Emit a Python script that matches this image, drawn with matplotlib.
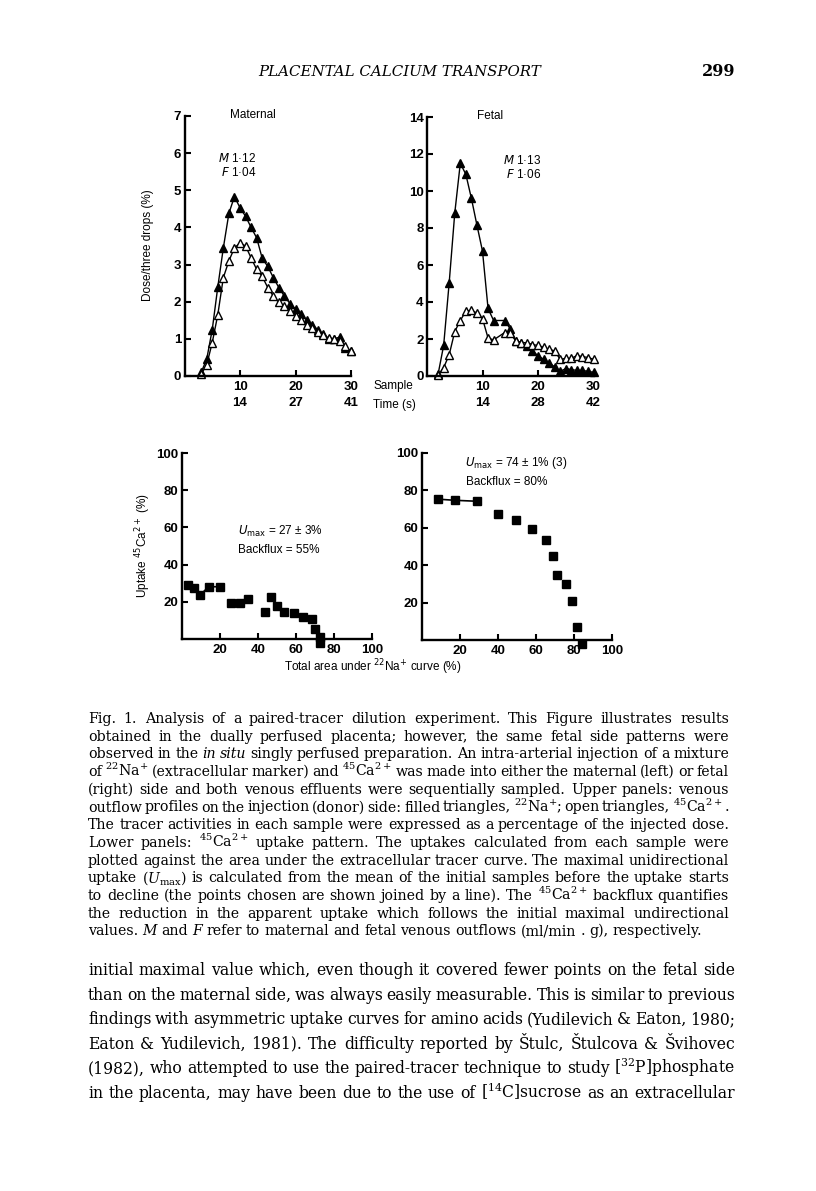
import matplotlib
matplotlib.use('Agg')
import matplotlib.pyplot as plt

plt.rcParams['font.family'] = 'Liberation Sans'
plt.rcParams['mathtext.fontset'] = 'dejavusans'

# upper panels: dose per three drops (%) against sample number
mat_sample = [3, 4, 5, 6, 7, 8, 9, 10, 11, 12, 13, 14, 15, 16, 17, 18, 19, 20,
              21, 22, 23, 24, 25, 26, 27, 28, 29, 30]
mat_na = [0.1, 0.45, 1.25, 2.4, 3.45, 4.38, 4.83, 4.53, 4.3, 4.0, 3.72, 3.17,
          2.95, 2.65, 2.38, 2.15, 1.95, 1.8, 1.67, 1.5, 1.38, 1.25, 1.12, 1.0,
          1.0, 1.05, 0.75, 0.68]
mat_ca = [0.05, 0.3, 0.9, 1.65, 2.65, 3.1, 3.45, 3.58, 3.5, 3.18, 2.87, 2.68,
          2.38, 2.15, 1.98, 1.88, 1.75, 1.62, 1.5, 1.38, 1.28, 1.18, 1.1, 1.02,
          1.0, 0.95, 0.8, 0.66]

fet_sample = [2, 3, 4, 5, 6, 7, 8, 9, 10, 11, 12, 14, 15, 16, 17, 18, 19, 20,
              21, 22, 23, 24, 25, 26, 27, 28, 29, 30]
fet_na = [0.1, 1.65, 5.05, 8.8, 11.5, 10.9, 9.6, 8.15, 6.75, 3.65, 3.0, 3.0,
          2.55, 1.9, 1.8, 1.6, 1.35, 1.1, 0.9, 0.7, 0.5, 0.25, 0.4, 0.35, 0.3,
          0.3, 0.25, 0.2]
fet_ca = [0.05, 0.45, 1.15, 2.4, 3.0, 3.5, 3.55, 3.4, 3.1, 2.05, 1.95, 2.35,
          2.3, 1.9, 1.8, 1.8, 1.7, 1.65, 1.55, 1.45, 1.35, 0.9, 0.95, 0.95, 1.1,
          1.05, 1.0, 0.9]

mat_time = ['14', '27', '41']
fet_time = ['14', '28', '42']

# lower panels: uptake of 45Ca (%) against area under 22Na curve (%)
mat_area = [3.2, 6.1, 9.6, 14.0, 20.2, 25.8, 30.4, 34.7, 43.5, 46.8, 50.2,
            53.7, 58.8, 63.5, 68.4, 69.8, 72.8, 72.8]
mat_uptake = [29, 27.6, 23.7, 28.1, 28.1, 19.5, 19.2, 21.3, 14.7, 22.7, 17.9,
              14.7, 13.8, 11.7, 10.8, 5.2, 0.9, -2.0]
fet_area = [8.6, 17.4, 28.8, 40.2, 49.5, 57.7, 65.1, 68.8, 71.2, 75.6, 79.1,
            81.4, 84.4]
fet_uptake = [75.3, 74.7, 74.2, 67.6, 64.1, 59.1, 53.4, 44.8, 34.8, 30.1,
              21.1, 6.8, -2.2]
mat_joined = 5
fet_joined = 3

caption = [
    "Fig. 1. Analysis of a paired-tracer dilution experiment. This Figure illustrates results",
    "obtained in the dually perfused placenta; however, the same fetal side patterns were",
    "observed in the _in_ _situ_ singly perfused preparation. An intra-arterial injection of a mixture",
    "of $^{22}$Na$^{+}$ (extracellular marker) and $^{45}$Ca$^{2+}$ was made into either the maternal (left) or fetal",
    "(right) side and both venous effluents were sequentially sampled. Upper panels: venous",
    "outflow profiles on the injection (donor) side: filled triangles, $^{22}$Na$^{+}$; open triangles, $^{45}$Ca$^{2+}$.",
    "The tracer activities in each sample were expressed as a percentage of the injected dose.",
    "Lower panels: $^{45}$Ca$^{2+}$ uptake pattern. The uptakes calculated from each sample were",
    "plotted against the area under the extracellular tracer curve. The maximal unidirectional",
    "uptake ($U_{\\mathrm{max}}$) is calculated from the mean of the initial samples before the uptake starts",
    "to decline (the points chosen are shown joined by a line). The $^{45}$Ca$^{2+}$ backflux quantifies",
    "the reduction in the apparent uptake which follows the initial maximal undirectional",
    "values. _M_ and _F_ refer to maternal and fetal venous outflows (ml/min . g), respectively.",
]
body = [
    "initial maximal value which, even though it covered fewer points on the fetal side",
    "than on the maternal side, was always easily measurable. This is similar to previous",
    "findings with asymmetric uptake curves for amino acids (Yudilevich & Eaton, 1980;",
    "Eaton & Yudilevich, 1981). The difficulty reported by Štulc, Štulcova & Švihovec",
    "(1982), who attempted to use the paired-tracer technique to study [$^{32}$P]phosphate",
    "in the placenta, may have been due to the use of [$^{14}$C]sucrose as an extracellular",
]

W, H = 816, 1191
fig = plt.figure(figsize=(W / 100, H / 100), dpi=100)
rend = fig.canvas.get_renderer()


def box(l, t, r, b):
    return [l / W, 1 - b / H, (r - l) / W, (b - t) / H]


def ftext(x, y, s, **kw):
    return fig.text(x / W, 1 - y / H, s, **kw)


def justify(line, x0, x1, y, size, last=False):
    words = []
    for w in line.split(' '):
        st = 'normal'
        if len(w) > 2 and w[0] == '_' and w[-1] == '_':
            w, st = w[1:-1], 'italic'
        words.append(ftext(x0, y, w, fontsize=size, family='DejaVu Serif',
                           style=st, va='baseline', ha='left',
                           math_fontfamily='dejavuserif'))
    widths = [t.get_window_extent(rend).width for t in words]
    if last or len(words) < 2:
        gap = size * 1.389 * 0.3
    else:
        gap = (x1 - x0 - sum(widths)) / (len(words) - 1)
    x = x0
    for t, w in zip(words, widths):
        t.set_x(x / W)
        x += w + gap


def style(ax):
    for s in ['top', 'right']:
        ax.spines[s].set_visible(False)
    for s in ['left', 'bottom']:
        ax.spines[s].set_linewidth(1.7)
    ax.tick_params(direction='in', length=4, width=1.5, labelsize=9.5)
    ax.tick_params(axis='y', pad=2.5)
    ax.tick_params(axis='x', pad=3.5)
    for lbl in ax.get_xticklabels() + ax.get_yticklabels():
        lbl.set_fontweight('bold')


mk = dict(color='black', lw=1.0, ms=5.5, mew=1.0, clip_on=False)

ax1 = fig.add_axes(box(184.5, 116, 351, 376))
ax1.plot(mat_sample, mat_na, marker='^', mfc='black', **mk)
ax1.plot(mat_sample, mat_ca, marker='^', mfc='white', **mk)
ax1.set_xlim(0, 30)
ax1.set_ylim(0, 7)
ax1.set_yticks(range(0, 8))
ax1.set_xticks([10, 20, 30])
ax1.set_xticklabels([f'{s}\n{t}' for s, t in zip([10, 20, 30], mat_time)])

ax2 = fig.add_axes(box(427, 117, 593.5, 376))
ax2.plot(fet_sample, fet_na, marker='^', mfc='black', **mk)
ax2.plot(fet_sample, fet_ca, marker='^', mfc='white', **mk)
ax2.set_xlim(0, 30)
ax2.set_ylim(0, 14)
ax2.set_yticks(range(0, 15, 2))
ax2.set_xticks([10, 20, 30])
ax2.set_xticklabels([f'{s}\n{t}' for s, t in zip([10, 20, 30], fet_time)])

ax3 = fig.add_axes(box(182, 453, 372, 639))
ax3.plot(mat_area[:mat_joined], mat_uptake[:mat_joined], color='black', lw=1.2)
ax3.plot(mat_area, mat_uptake, 's', color='black', ms=6, clip_on=False)

ax4 = fig.add_axes(box(422, 453, 612, 640))
ax4.plot(fet_area[:fet_joined], fet_uptake[:fet_joined], color='black', lw=1.2)
ax4.plot(fet_area, fet_uptake, 's', color='black', ms=6, clip_on=False)

for ax in (ax3, ax4):
    ax.set_xlim(0, 100)
    ax.set_ylim(0, 100)
    ax.set_xticks([20, 40, 60, 80, 100])
    ax.set_yticks([20, 40, 60, 80, 100])

for ax in (ax1, ax2, ax3, ax4):
    style(ax)
for ax in (ax1, ax2):
    for lbl in ax.get_xticklabels():
        lbl.set_linespacing(1.45)
        lbl.set_va('top')

lab = dict(fontsize=8.5, va='center')
ftext(253, 115, 'Maternal', ha='center', **lab)
ftext(490, 116, 'Fetal', ha='center', **lab)
ftext(256, 158, r'$\it{M}$ 1·12', ha='right', **lab)
ftext(256, 173, r'$\it{F}$ 1·04', ha='right', **lab)
ftext(541, 160, r'$\it{M}$ 1·13', ha='right', **lab)
ftext(541, 175, r'$\it{F}$ 1·06', ha='right', **lab)
ftext(148, 245, 'Dose/three drops (%)', ha='center', rotation=90, **lab)
ftext(373, 386, 'Sample', ha='left', **lab)
ftext(373, 405, 'Time (s)', ha='left', **lab)
ftext(238, 531, r'$\it{U}_{\rm max}$ = 27 ± 3%', ha='left', **lab)
ftext(238, 550, 'Backflux = 55%', ha='left', **lab)
ftext(465, 463, r'$\it{U}_{\rm max}$ = 74 ± 1% (3)', ha='left', **lab)
ftext(466, 482, 'Backflux = 80%', ha='left', **lab)
ftext(143, 545, r'Uptake $^{45}$Ca$^{2+}$ (%)', ha='center', rotation=90, **lab)
ftext(373, 667, r'Total area under $^{22}$Na$^{+}$ curve (%)', ha='center', **lab)

ftext(400, 72, 'PLACENTAL CALCIUM TRANSPORT', ha='center', va='center',
      family='DejaVu Serif', style='italic', fontsize=10.8)
ftext(735, 72, '299', ha='right', va='center', family='DejaVu Serif',
      fontsize=11.5, fontweight='bold')

for i, line in enumerate(caption):
    justify(line, 88, 729, 723 + i * 17.7, 10.2, last=(i == len(caption) - 1))
for i, line in enumerate(body):
    justify(line, 88, 735, 975 + i * 24.6, 11.25)

fig.savefig('out.png', dpi=100)
